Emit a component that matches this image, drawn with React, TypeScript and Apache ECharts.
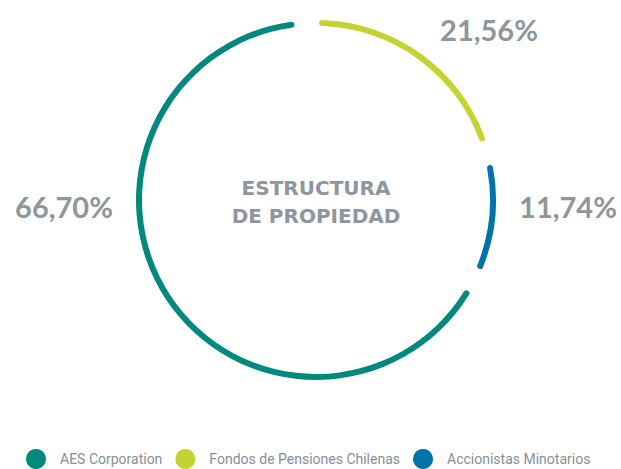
import React, { useEffect, useRef } from "react";
import * as echarts from "echarts";

const categories = ["Fondos de Pensiones Chilenas", "Accionistas Minotarios", "AES Corporation"];
const values = [21.56, 11.74, 66.7];
const colors = ["#C3D32F", "#0074A9", "#00897C"];
const legendOrder = ["AES Corporation", "Fondos de Pensiones Chilenas", "Accionistas Minotarios"];
const centerTitle = "ESTRUCTURA\nDE PROPIEDAD";
// label anchor points (pixel) for each slice's percentage label
const labelAnchors = [
  { x: 489, y: 29, align: "center" },
  { x: 568, y: 206, align: "center" },
  { x: 64, y: 206, align: "center" },
];

const fmt = (v: number) => v.toFixed(2).replace(".", ",") + "%";

export default function App() {
  const ref = useRef<HTMLDivElement>(null);
  useEffect(() => {
    if (!ref.current) return;
    const chart = echarts.init(ref.current, undefined, { renderer: "svg" });
    chart.setOption({
      animation: false,
      backgroundColor: "#ffffff",
      legend: {
        data: legendOrder,
        top: 449,
        left: 26,
        width: 600,
        padding: 0,
        icon: "circle",
        itemWidth: 20,
        itemHeight: 20,
        itemGap: 13,
        textStyle: {
          color: "#868F95",
          fontSize: 14,
          fontFamily: "Roboto, sans-serif",
          padding: [0, 0, 0, 9],
        },
      },
      graphic: [
        {
          type: "text",
          x: 316,
          y: 174,
          style: {
            text: centerTitle,
            fill: "#8D969C",
            font: "bold 20px 'DejaVu Sans', sans-serif",
            textAlign: "center",
            lineHeight: 28,
          },
        },
      ],
      series: [
        {
          type: "pie",
          center: [316, 200],
          radius: [174, 180],
          startAngle: 93,
          clockwise: true,
          padAngle: 8,
          avoidLabelOverlap: false,
          itemStyle: { borderRadius: 3 },
          emphasis: { disabled: true },
          label: {
            show: true,
            position: "outside",
            formatter: (p: any) => fmt(p.value),
            color: "#8D969C",
            fontSize: 29,
            fontWeight: "bold",
            fontFamily: "Lato, sans-serif",
          },
          labelLine: { show: false },
          labelLayout: (params: any) => {
            const a = labelAnchors[params.dataIndex];
            return { x: a.x, y: a.y, align: a.align, verticalAlign: "middle" };
          },
          data: categories.map((name, i) => ({
            name,
            value: values[i],
            itemStyle: { color: colors[i] },
          })),
        },
      ],
    });
    return () => chart.dispose();
  }, []);
  return (
    <div
      ref={ref}
      style={{ position: "fixed", left: 0, top: 0, width: 621, height: 469 }}
    />
  );
}
